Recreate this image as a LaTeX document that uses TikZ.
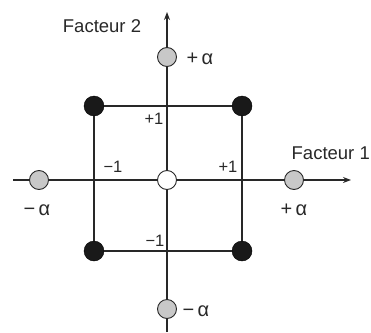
\documentclass[tikz,border=0pt]{standalone}
\usepackage{fontspec}
\setmainfont{Liberation Sans}
\usetikzlibrary{arrows.meta}
\definecolor{ink}{RGB}{40,40,40}
\definecolor{ptgray}{RGB}{200,200,200}
\tikzset{
  axisline/.style={draw=ink, line width=1.5pt},
  sqline/.style={draw=ink, line width=1.3pt},
  blackpt/.style={circle, fill=black!90, draw=black, minimum size=20pt, inner sep=0pt},
  graypt/.style={circle, fill=ptgray, draw=ink, line width=0.9pt, minimum size=19pt, inner sep=0pt},
  whitept/.style={circle, fill=white, draw=ink, line width=0.9pt, minimum size=19pt, inner sep=0pt},
  biglbl/.style={font=\fontsize{18.5}{20}\selectfont, text=ink, inner sep=0pt},
  albl/.style={font=\fontsize{20}{22}\selectfont, text=ink, inner sep=0pt},
  smlbl/.style={font=\fontsize{16.5}{18}\selectfont, text=ink, inner sep=0pt},
}
\begin{document}
\begin{tikzpicture}[x=1pt,y=-1pt]
\useasboundingbox (0,0) rectangle (371,332);
% axes
\coordinate (xl) at (13,180);
\coordinate (xr) at (351,180);
\coordinate (yb) at (167,332);
\coordinate (yt) at (167,12);
\draw[axisline,-{Stealth[length=8pt,width=6pt]}] (xl) -- (xr);
\draw[axisline,-{Stealth[length=8pt,width=6pt]}] (yb) -- (yt);
% factorial points
\node[blackpt] (tl) at (94,106) {};
\node[blackpt] (tr) at (242,106) {};
\node[blackpt] (bl) at (94,251) {};
\node[blackpt] (br) at (242,251) {};
\draw[sqline] (tl) -- (tr) -- (br) -- (bl) -- (tl);
% star points
\node[graypt] (pt) at (167,57) {};
\node[graypt] (pb) at (167,309) {};
\node[graypt] (pl) at (39,180) {};
\node[graypt] (pr) at (294,180) {};
\node[whitept] (c) at (167,180) {};
% labels
\node[biglbl] (f2) at (102,26) {Facteur 2};
\node[biglbl, anchor=east] (f1) at (370,153) {Facteur 1};
\node[albl] (at) at (200,59) {+\,α};
\node[albl] (ab) at (196,311) {−\,α};
\node[albl] (al) at (37,210) {−\,α};
\node[albl] (ar) at (294,210) {+\,α};
\node[smlbl] (p1t) at (154,119) {+1};
\node[smlbl] (m1l) at (113,167) {−1};
\node[smlbl] (p1r) at (228,167) {+1};
\node[smlbl] (m1b) at (155,241) {−1};
\end{tikzpicture}
\end{document}
